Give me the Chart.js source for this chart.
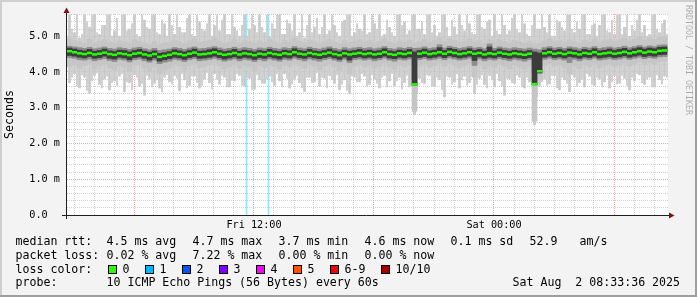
<!DOCTYPE html>
<html>
<head>
<meta charset="utf-8">
<title>Smokeping latency</title>
<script src="https://cdn.jsdelivr.net/npm/chart.js@4.4.1/dist/chart.umd.min.js"></script>
<style>
  html, body { margin: 0; padding: 0; background: #f3f3f3; }
  canvas { display: block; }
</style>
</head>
<body>
<canvas id="pingChart" width="697" height="297"></canvas>
<script>
// time axis is hours since Fri 00:00, one smoke slot every 15 minutes
const slotStart = 2.65;
const slotHours = 0.25;
const timeMin = 2.65;
const timeMax = 32.7;
const yMax = 5.62;

const xTickLabels = { 12: 'Fri 12:00', 24: 'Sat 00:00' };
const yTickLabels = { 0: '0.0  ', 1: '1.0 m', 2: '2.0 m', 3: '3.0 m', 4: '4.0 m', 5: '5.0 m' };

// hours where a ping was lost (drawn as full height loss bars)
const lossTimes = [11.625, 12.725];

// median rtt (ms)
const median = [
  4.58,4.55,4.52,4.50,4.53,4.49,4.51,4.54,4.50,4.48,
  4.52,4.50,4.47,4.51,4.53,4.49,4.46,4.50,4.42,4.45,
  4.48,4.52,4.50,4.47,4.51,4.54,4.49,4.50,4.52,4.55,
  4.51,4.48,4.50,4.53,4.49,4.52,4.50,4.47,4.51,4.49,
  4.53,4.50,4.48,4.52,4.50,4.55,4.51,4.49,4.53,4.50,
  4.48,4.51,4.54,4.50,4.47,4.52,4.49,4.51,4.53,4.50,
  4.52,4.49,4.51,4.55,4.50,4.48,4.52,4.50,4.53,3.65,
  4.51,4.54,4.50,4.52,4.55,4.51,4.56,4.53,4.50,4.52,
  4.55,4.51,4.53,4.49,4.52,4.50,4.54,4.51,4.49,4.52,
  4.50,4.48,4.51,3.66,4.02,4.52,4.55,4.51,4.53,4.50,
  4.54,4.52,4.49,4.53,4.51,4.55,4.50,4.52,4.54,4.51,
  4.53,4.56,4.52,4.55,4.58,4.54,4.57,4.55,4.59,4.60
];

// dark smoke core
const darkLo = [
  4.46,4.44,4.41,4.39,4.43,4.38,4.40,4.44,4.38,4.36,
  4.41,4.39,4.34,4.40,4.42,4.38,4.33,4.39,4.30,4.34,
  4.37,4.41,4.39,4.35,4.40,4.43,4.38,4.39,4.41,4.44,
  4.40,4.36,4.39,4.42,4.38,4.41,4.39,4.35,4.40,4.38,
  4.42,4.39,4.36,4.41,4.39,4.44,4.40,4.38,4.42,4.39,
  4.37,4.40,4.43,4.39,4.35,4.41,4.33,4.40,4.42,4.39,
  4.41,4.38,4.40,4.44,4.39,4.37,4.41,4.39,4.42,3.63,
  4.40,4.43,4.39,4.41,4.44,4.40,4.45,4.42,4.39,4.41,
  4.44,4.32,4.42,4.38,4.41,4.39,4.43,4.40,4.38,4.41,
  4.39,4.37,4.40,3.64,3.98,4.41,4.44,4.40,4.42,4.39,
  4.43,4.41,4.38,4.42,4.40,4.44,4.39,4.41,4.43,4.40,
  4.42,4.45,4.41,4.44,4.47,4.43,4.46,4.44,4.48,4.49
];
const darkHi = [
  4.67,4.64,4.61,4.59,4.63,4.58,4.60,4.64,4.59,4.57,
  4.61,4.60,4.56,4.60,4.63,4.58,4.55,4.59,4.52,4.54,
  4.57,4.62,4.59,4.56,4.60,4.64,4.58,4.59,4.62,4.65,
  4.60,4.57,4.59,4.63,4.58,4.61,4.59,4.56,4.60,4.58,
  4.63,4.59,4.57,4.61,4.59,4.65,4.60,4.58,4.63,4.59,
  4.57,4.60,4.64,4.59,4.56,4.61,4.58,4.60,4.63,4.59,
  4.61,4.58,4.60,4.65,4.59,4.57,4.61,4.59,4.63,4.56,
  4.60,4.64,4.59,4.61,4.68,4.60,4.66,4.63,4.59,4.61,
  4.65,4.60,4.63,4.58,4.70,4.59,4.64,4.60,4.58,4.61,
  4.59,4.57,4.60,4.56,4.53,4.61,4.65,4.60,4.63,4.59,
  4.64,4.61,4.58,4.63,4.60,4.65,4.59,4.61,4.64,4.60,
  4.63,4.66,4.61,4.65,4.68,4.64,4.67,4.65,4.69,4.70
];

// inner (medium grey) smoke band
const midLo = [
  4.40,4.38,4.34,4.33,4.36,4.31,4.34,4.37,4.32,4.29,
  4.35,4.33,4.28,4.34,4.36,4.31,4.27,4.33,4.23,4.27,
  4.30,4.35,4.33,4.29,4.34,4.37,4.31,4.33,4.35,4.38,
  4.34,4.30,4.33,4.36,4.31,4.35,4.33,4.29,4.34,4.31,
  4.36,4.33,4.30,4.35,4.33,4.38,4.34,4.31,4.36,4.33,
  4.30,4.34,4.37,4.33,4.29,4.35,4.26,4.34,4.36,4.33,
  4.35,4.31,4.34,4.38,4.33,4.30,4.35,4.33,4.36,3.62,
  4.34,4.37,4.33,4.35,4.38,4.34,4.39,4.36,4.33,4.35,
  4.38,4.18,4.36,4.31,4.35,4.33,4.37,4.34,4.31,4.35,
  4.33,4.30,4.34,3.64,3.95,4.35,4.38,4.34,4.36,4.33,
  4.26,4.35,4.31,4.36,4.34,4.38,4.33,4.35,4.37,4.34,
  4.36,4.39,4.35,4.38,4.41,4.37,4.40,4.38,4.42,4.43
];
const midHi = [
  4.72,4.70,4.68,4.66,4.69,4.65,4.67,4.70,4.66,4.64,
  4.68,4.66,4.63,4.67,4.69,4.65,4.62,4.66,4.60,4.62,
  4.64,4.68,4.66,4.63,4.67,4.70,4.65,4.66,4.68,4.71,
  4.67,4.64,4.66,4.69,4.65,4.68,4.66,4.63,4.67,4.65,
  4.69,4.66,4.64,4.68,4.66,4.71,4.67,4.65,4.69,4.66,
  4.64,4.67,4.70,4.66,4.63,4.68,4.65,4.67,4.69,4.66,
  4.68,4.65,4.67,4.71,4.66,4.64,4.68,4.66,4.69,4.66,
  4.67,4.70,4.66,4.68,4.76,4.67,4.72,4.69,4.66,4.68,
  4.71,4.67,4.69,4.65,4.78,4.66,4.70,4.67,4.65,4.68,
  4.66,4.64,4.67,4.64,4.62,4.68,4.71,4.67,4.69,4.66,
  4.70,4.68,4.65,4.69,4.67,4.71,4.66,4.68,4.70,4.67,
  4.69,4.72,4.68,4.71,4.74,4.70,4.73,4.71,4.75,4.76
];

// outer (light grey) smoke band
const lightLo = [
  4.15,4.20,4.10,4.18,4.22,4.08,4.16,4.21,4.12,4.05,
  4.18,4.14,4.02,4.19,4.22,4.10,4.00,4.15,3.95,4.05,
  4.10,4.20,4.16,4.06,4.18,4.23,4.12,4.15,4.19,4.25,
  4.17,4.08,4.14,4.21,4.10,4.19,4.15,4.05,4.18,4.12,
  4.20,4.15,4.08,4.19,4.14,4.25,4.17,4.10,4.21,4.15,
  4.06,4.16,4.22,4.14,4.04,4.19,3.95,4.16,4.21,4.14,
  4.19,4.10,4.16,4.24,4.14,4.07,4.19,4.14,4.20,2.90,
  4.16,4.22,4.13,4.18,4.25,4.16,4.24,4.19,4.12,4.18,
  4.24,3.85,4.20,4.08,4.18,4.13,4.22,4.16,4.09,4.19,
  4.14,4.07,4.17,2.62,3.80,4.18,4.24,4.16,4.20,4.13,
  3.95,4.17,4.09,4.20,4.15,4.24,4.12,4.18,4.22,4.16,
  4.19,4.25,4.17,4.23,4.28,4.20,4.26,4.22,4.29,4.30
];
const lightHi = [
  4.95,4.88,4.85,4.80,4.92,4.82,4.86,4.90,4.83,4.79,
  4.87,4.84,4.78,4.90,4.85,4.81,4.77,4.86,4.76,4.80,
  4.83,4.89,4.84,4.79,4.87,4.93,4.82,4.85,4.88,4.95,
  4.86,4.80,4.84,4.90,4.81,4.88,4.84,4.79,4.87,4.82,
  4.90,4.84,4.80,4.88,4.83,4.94,4.86,4.81,4.89,4.84,
  4.80,4.86,4.91,4.83,4.78,4.88,4.82,4.85,4.90,4.84,
  4.88,4.81,4.85,4.93,4.84,4.80,4.87,4.83,4.89,4.80,
  4.85,4.91,4.83,4.87,4.95,4.85,4.92,4.88,4.83,4.86,
  4.92,4.84,4.88,4.81,4.90,4.83,4.90,4.85,4.81,4.87,
  4.84,4.80,4.86,4.78,4.80,4.87,4.93,4.85,4.89,4.83,
  4.90,4.86,4.81,4.89,4.84,4.93,4.83,4.87,4.91,4.85,
  4.88,4.94,4.86,4.92,4.98,4.89,4.95,4.91,4.97,4.99
];

// fastest / slowest ping spikes, at slot centres
const spikeLo = [
  3.70,3.95,3.55,3.85,3.40,3.90,3.65,3.80,3.50,3.75,
  3.88,3.45,3.70,3.92,3.60,3.35,3.80,3.68,3.55,3.85,
  3.72,3.90,3.48,3.78,3.62,3.88,3.55,3.80,3.70,3.95,
  3.66,3.85,3.58,3.75,3.90,3.60,3.82,3.52,3.78,3.68,
  3.88,3.62,3.75,3.95,3.55,3.80,3.70,3.45,3.85,3.72,
  3.60,3.82,3.90,3.68,3.50,3.78,3.40,3.85,3.72,3.88,
  3.65,3.80,3.55,3.90,3.75,3.62,3.85,3.70,3.58,2.80,
  3.82,3.68,3.90,3.60,3.78,3.30,3.85,3.72,3.55,3.88,
  3.70,3.40,3.82,3.65,3.90,3.58,3.75,3.35,3.80,3.68,
  3.85,3.55,3.72,2.52,3.60,3.80,3.66,3.90,3.50,3.78,
  3.45,3.85,3.70,3.58,3.88,3.62,3.80,3.72,3.55,3.90,
  3.68,3.82,3.50,3.75,3.92,3.65,3.85,3.58,3.78,3.88
];
const spikeHi = [
  5.60,5.10,4.95,5.60,5.25,5.60,5.05,5.30,5.60,5.15,
  5.00,5.60,5.20,5.60,4.98,5.45,5.20,5.60,5.05,5.35,
  5.60,5.05,5.25,5.10,5.60,5.00,5.40,5.15,5.60,5.30,
  5.15,5.60,5.05,5.25,5.00,5.60,5.20,5.30,5.60,5.10,
  4.98,5.20,5.60,5.05,5.35,5.60,5.10,4.95,5.60,5.25,
  5.05,5.60,5.15,5.30,5.00,5.45,5.60,5.10,5.20,5.60,
  5.10,5.35,5.60,5.05,5.25,5.00,5.60,5.40,5.15,5.60,
  5.20,5.05,5.60,5.30,5.10,5.60,5.00,5.25,5.60,5.15,
  5.35,5.05,5.60,5.20,5.45,5.60,5.05,5.30,5.15,5.60,
  5.10,5.35,5.00,5.60,5.20,5.25,5.60,5.00,5.40,5.15,
  5.60,5.10,5.20,5.60,5.05,5.35,5.30,5.60,5.10,5.05,
  5.60,5.25,5.00,5.15,5.60,5.30,5.05,5.60,5.10,5.45
];

// more spikes, at slot boundaries
const spike2Lo = [
  3.85,3.60,3.92,3.48,3.75,3.98,3.55,3.88,3.70,3.62,
  3.95,3.72,3.50,3.85,3.68,3.90,3.58,3.78,3.45,3.92,
  3.66,3.82,3.95,3.55,3.88,3.70,3.62,3.98,3.52,3.80,
  3.90,3.58,3.76,3.95,3.62,3.85,3.50,3.92,3.68,3.80,
  3.72,3.95,3.58,3.82,3.66,3.90,3.55,3.85,3.70,3.98,
  3.85,3.55,3.78,3.92,3.65,3.48,3.88,3.72,3.95,3.60,
  3.92,3.68,3.85,3.58,3.95,3.75,3.52,3.90,3.80,3.40,
  3.70,3.92,3.60,3.85,3.50,3.88,3.66,3.95,3.78,3.62,
  3.88,3.65,3.92,3.55,3.78,3.95,3.60,3.82,3.70,3.90,
  3.58,3.85,3.95,3.30,3.72,3.62,3.90,3.55,3.85,3.68,
  3.92,3.60,3.80,3.95,3.65,3.85,3.58,3.90,3.72,3.66,
  3.90,3.62,3.85,3.95,3.70,3.80,3.58,3.92,3.66,3.85
];
const spike2Hi = [
  5.20,5.60,5.05,5.40,5.60,5.10,5.30,5.60,5.00,5.50,
  5.60,5.15,5.35,5.05,5.60,5.25,5.60,5.10,5.45,5.00,
  5.30,5.60,5.10,5.50,5.05,5.60,5.20,5.35,5.00,5.60,
  5.45,5.05,5.60,5.15,5.30,5.00,5.60,5.10,5.25,5.60,
  5.35,5.60,5.05,5.45,5.15,5.00,5.60,5.30,5.10,5.50,
  5.25,5.05,5.60,5.10,5.40,5.60,5.00,5.35,5.15,5.05,
  5.60,5.20,5.00,5.45,5.10,5.60,5.30,5.05,5.60,5.20,
  5.40,5.60,5.10,5.00,5.60,5.25,5.45,5.05,5.30,5.60,
  5.10,5.60,5.25,5.40,5.00,5.15,5.60,5.05,5.50,5.20,
  5.60,5.05,5.30,5.20,5.60,5.10,5.00,5.45,5.25,5.60,
  5.20,5.40,5.60,5.05,5.30,5.00,5.60,5.15,5.45,5.60,
  5.05,5.60,5.30,5.45,5.10,5.00,5.60,5.20,5.35,5.05
];

// legend text
const rttStats = ['4.5 ms avg', '4.7 ms max', '3.7 ms min', '4.6 ms now', '0.1 ms sd'];
const lossStats = ['0.02 % avg', '7.22 % max', '0.00 % min', '0.00 % now'];
const lossLabels = ['0', '1', '2', '3', '4', '5', '6-9', '10/10'];
const lossColors = ['#26ff00', '#00b8ff', '#0059ff', '#7e00ff', '#ff00ff', '#ff5500', '#ff0000', '#a10000'];

const MONO = "'DejaVu Sans Mono', monospace";

function slotX(i) { return slotStart + slotHours * (i + 0.5); }
function band(lo, hi, shift) {
  return lo.map((v, i) => ({ x: slotX(i) + (shift || 0), y: [v, hi[i]] }));
}
function isWhole(v, n) { return Math.abs(v / n - Math.round(v / n)) < 1e-6; }

const rrdFrame = {
  id: 'rrdFrame',
  beforeDraw(chart) {
    const { ctx, chartArea: a, width, height } = chart;
    ctx.save();
    ctx.fillStyle = '#f3f3f3';
    ctx.fillRect(0, 0, width, height);
    ctx.fillStyle = '#ffffff';
    ctx.fillRect(a.left, a.top, a.right - a.left, a.bottom - a.top);
    ctx.restore();
  },
  afterDraw(chart) {
    const { ctx, chartArea: a, width, height } = chart;
    ctx.save();

    // axes + arrows
    ctx.strokeStyle = '#202020';
    ctx.lineWidth = 1;
    ctx.beginPath();
    ctx.moveTo(a.left - 5, a.bottom + 0.5);
    ctx.lineTo(a.right + 3, a.bottom + 0.5);
    ctx.moveTo(a.left - 0.5, a.bottom + 4);
    ctx.lineTo(a.left - 0.5, a.top - 4);
    ctx.stroke();
    ctx.fillStyle = '#801010';
    ctx.beginPath();
    ctx.moveTo(a.right + 1, a.bottom - 2.5);
    ctx.lineTo(a.right + 6.5, a.bottom + 0.5);
    ctx.lineTo(a.right + 1, a.bottom + 3.5);
    ctx.closePath();
    ctx.fill();
    ctx.beginPath();
    ctx.moveTo(a.left - 3.5, a.top - 1);
    ctx.lineTo(a.left - 0.5, a.top - 6.5);
    ctx.lineTo(a.left + 2.5, a.top - 1);
    ctx.closePath();
    ctx.fill();

    // 3d frame
    ctx.fillStyle = '#cfcfcf';
    ctx.fillRect(0, 0, width, 2);
    ctx.fillRect(0, 0, 2, height);
    ctx.fillStyle = '#9e9e9e';
    ctx.fillRect(width - 2, 0, 2, height);
    ctx.fillRect(0, height - 2, width, 2);

    // watermark
    ctx.save();
    ctx.translate(688.5, 5);
    ctx.rotate(Math.PI / 2);
    ctx.font = '8.3px ' + MONO;
    ctx.fillStyle = 'rgba(0,0,0,0.3)';
    ctx.textBaseline = 'middle';
    ctx.fillText('RRDTOOL / TOBI OETIKER', 0, 0);
    ctx.restore();

    // legend block
    ctx.font = '11.6px ' + MONO;
    ctx.fillStyle = '#000';
    ctx.textBaseline = 'middle';
    const cols = [106.5, 192.5, 278.5, 364.5, 450.5];
    const rows = [241.7, 255.7, 269.5, 283.4];
    ctx.fillText('median rtt:', 15.5, rows[0]);
    rttStats.forEach((t, i) => ctx.fillText(t, cols[i], rows[0]));
    ctx.fillText('52.9', 529.5, rows[0]);
    ctx.fillText('am/s', 579.5, rows[0]);
    ctx.fillText('packet loss:', 15.5, rows[1]);
    lossStats.forEach((t, i) => ctx.fillText(t, cols[i], rows[1]));
    ctx.fillText('loss color:', 15.5, rows[2]);
    const swatchX = [108, 145, 182, 219, 256, 293, 330, 381];
    lossLabels.forEach((lbl, i) => {
      ctx.fillStyle = lossColors[i];
      ctx.fillRect(swatchX[i], 265, 9, 9);
      ctx.strokeStyle = '#000';
      ctx.strokeRect(swatchX[i] + 0.5, 265.5, 8, 8);
      ctx.fillStyle = '#000';
      ctx.fillText(lbl, swatchX[i] + 14.5, rows[2]);
    });
    ctx.fillText('probe:', 15.5, rows[3]);
    ctx.fillText('10 ICMP Echo Pings (56 Bytes) every 60s', 106.5, rows[3]);
    ctx.fillText('Sat Aug  2 08:33:36 2025', 512.5, rows[3]);

    ctx.restore();
  }
};

const ctx = document.getElementById('pingChart');

new Chart(ctx, {
  type: 'bar',
  data: {
    datasets: [
      {
        // smokeping draws the median as short level dashes, no connectors
        type: 'line',
        label: 'median rtt',
        data: median.map((v, i) => ({ x: slotX(i), y: v })),
        showLine: false,
        pointStyle: 'line',
        pointRadius: 2.5,
        pointBorderWidth: 2.5,
        pointBorderColor: '#26ff00',
        pointBackgroundColor: '#26ff00',
        order: 0
      },
      { label: 'dark', data: band(darkLo, darkHi), backgroundColor: '#3c3c3c', barThickness: 5, grouped: false, order: 1 },
      { label: 'mid', data: band(midLo, midHi), backgroundColor: '#8e8e8e', barThickness: 5, grouped: false, order: 2 },
      { label: 'light', data: band(lightLo, lightHi), backgroundColor: '#c6c6c6', barThickness: 5, grouped: false, order: 3 },
      { label: 'spikes', data: band(spikeLo, spikeHi), backgroundColor: '#c8c8c8', barThickness: 2, grouped: false, order: 4 },
      { label: 'spikes 2', data: band(spike2Lo, spike2Hi, slotHours / 2), backgroundColor: '#c8c8c8', barThickness: 1, grouped: false, order: 4 },
      {
        label: 'loss',
        data: lossTimes.map(t => ({ x: t, y: [0, yMax] })),
        backgroundColor: 'rgba(0,184,255,0.4)',
        barThickness: 1,
        grouped: false,
        order: 5
      }
    ]
  },
  options: {
    responsive: false,
    animation: false,
    devicePixelRatio: 1,
    layout: { padding: { top: 14, right: 29, left: 0, bottom: 0 } },
    plugins: { legend: { display: false }, tooltip: { enabled: false } },
    scales: {
      x: {
        type: 'linear',
        min: timeMin,
        max: timeMax,
        offset: false,
        afterFit: s => { s.height = 82; },
        grid: {
          offset: false,
          drawTicks: false,
          color: c => isWhole(c.tick.value, 6) ? 'rgba(224,80,80,0.5)' : 'rgba(140,140,140,0.4)'
        },
        border: { display: false, dash: [1, 1] },
        ticks: {
          stepSize: 1,
          autoSkip: false,
          maxRotation: 0,
          includeBounds: false,
          padding: 4,
          color: '#000',
          font: { family: MONO, size: 10.2 },
          callback: v => xTickLabels[v] || ''
        }
      },
      y: {
        min: 0,
        max: yMax,
        afterFit: s => { s.width = 67; },
        grid: {
          drawTicks: false,
          color: c => isWhole(c.tick.value, 1) ? 'rgba(224,80,80,0.5)' : 'rgba(140,140,140,0.4)'
        },
        border: { display: false, dash: [1, 1] },
        ticks: {
          stepSize: 0.2,
          autoSkip: false,
          includeBounds: false,
          padding: 7,
          color: '#000',
          font: { family: MONO, size: 10.2 },
          callback: v => isWhole(v, 1) ? yTickLabels[Math.round(v)] : ''
        },
        title: {
          display: true,
          text: 'Seconds',
          color: '#000',
          font: { family: MONO, size: 11.6 },
          padding: { top: 3, bottom: 0 }
        }
      }
    }
  },
  plugins: [rrdFrame]
});
</script>
</body>
</html>
